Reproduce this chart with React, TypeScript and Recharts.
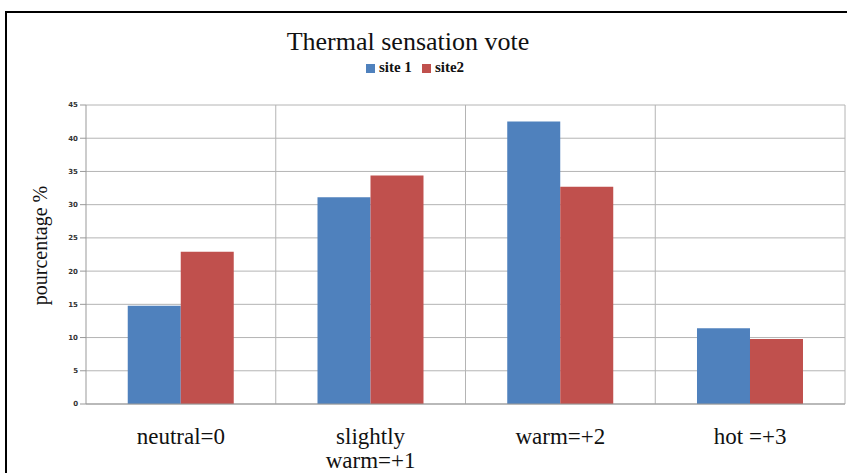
import { BarChart, Bar, XAxis, YAxis, CartesianGrid, Legend } from "recharts";

const categories = ["neutral=0", "slightly\nwarm=+1", "warm=+2", "hot =+3"];
const site1 = [14.8, 31.1, 42.5, 11.4];
const site2 = [22.9, 34.4, 32.7, 9.8];
const yTicks = [0, 5, 10, 15, 20, 25, 30, 35, 40, 45];

const data = categories.map((name, i) => ({
  name,
  site1: site1[i],
  site2: site2[i],
}));

const SERIF = "Liberation Serif, Tinos, DejaVu Serif, serif";

function CategoryTick(props: any) {
  const { x, y, payload } = props;
  const lines = String(payload.value).split("\n");
  return (
    <text
      x={x}
      y={y + 32}
      textAnchor="middle"
      fontFamily={SERIF}
      fontSize={23}
      fill="#111"
    >
      {lines.map((line, i) => (
        <tspan key={i} x={x} dy={i === 0 ? 0 : 24}>
          {line}
        </tspan>
      ))}
    </text>
  );
}

function YLabel(props: any) {
  const { viewBox } = props;
  const cx = viewBox.x + 34;
  const cy = viewBox.y + viewBox.height / 2 - 9;
  return (
    <text
      x={cx}
      y={cy}
      transform={`rotate(-90, ${cx}, ${cy})`}
      textAnchor="middle"
      dominantBaseline="central"
      fontFamily={SERIF}
      fontSize={20}
      fill="#111"
    >
      pourcentage %
    </text>
  );
}

export default function App() {
  return (
    <div
      style={{
        position: "absolute",
        left: 0,
        top: 0,
        width: 847,
        height: 473,
        overflow: "hidden",
        background: "#fff",
      }}
    >
      {/* frame */}
      <div
        style={{
          position: "absolute",
          left: 5,
          top: 11,
          width: 900,
          height: 500,
          borderLeft: "2px solid #000",
          borderTop: "2px solid #000",
        }}
      />
      <div
        style={{
          position: "absolute",
          top: 27,
          left: 0,
          width: 816,
          textAlign: "center",
          fontFamily: SERIF,
          fontSize: 26,
          color: "#111",
        }}
      >
        Thermal sensation vote
      </div>
      <BarChart
        width={847}
        height={473}
        data={data}
        margin={{ top: 87, right: 2, bottom: 9, left: 6 }}
        barCategoryGap="22%"
        barGap={0}
      >
        <CartesianGrid
          stroke="#b4b4b4"
          strokeWidth={1}
          verticalCoordinatesGenerator={({ offset }: any) =>
            categories.map((_, i) => offset.left + ((i + 1) * offset.width) / categories.length)
          }
        />
        <XAxis
          dataKey="name"
          height={60}
          interval={0}
          tick={<CategoryTick />}
          tickLine={false}
          axisLine={{ stroke: "#999" }}
        />
        <YAxis
          width={80}
          domain={[0, 45]}
          ticks={yTicks}
          interval={0}
          tickSize={6}
          tickLine={{ stroke: "#999" }}
          axisLine={{ stroke: "#999" }}
          tick={{ fontFamily: "DejaVu Sans, sans-serif", fontSize: 7, fontWeight: 700, fill: "#333" }}
          label={<YLabel />}
        />
        <Legend
          verticalAlign="top"
          iconType="square"
          iconSize={9}
          wrapperStyle={{ top: 58, left: 12, width: 816 }}
          formatter={(value: string) => (
            <span style={{ color: "#111", fontFamily: SERIF, fontWeight: 700, fontSize: 15 }}>
              {value}
            </span>
          )}
        />
        <Bar dataKey="site1" name="site 1" fill="#4F81BD" isAnimationActive={false} />
        <Bar dataKey="site2" name="site2" fill="#C0504D" isAnimationActive={false} />
      </BarChart>
    </div>
  );
}
